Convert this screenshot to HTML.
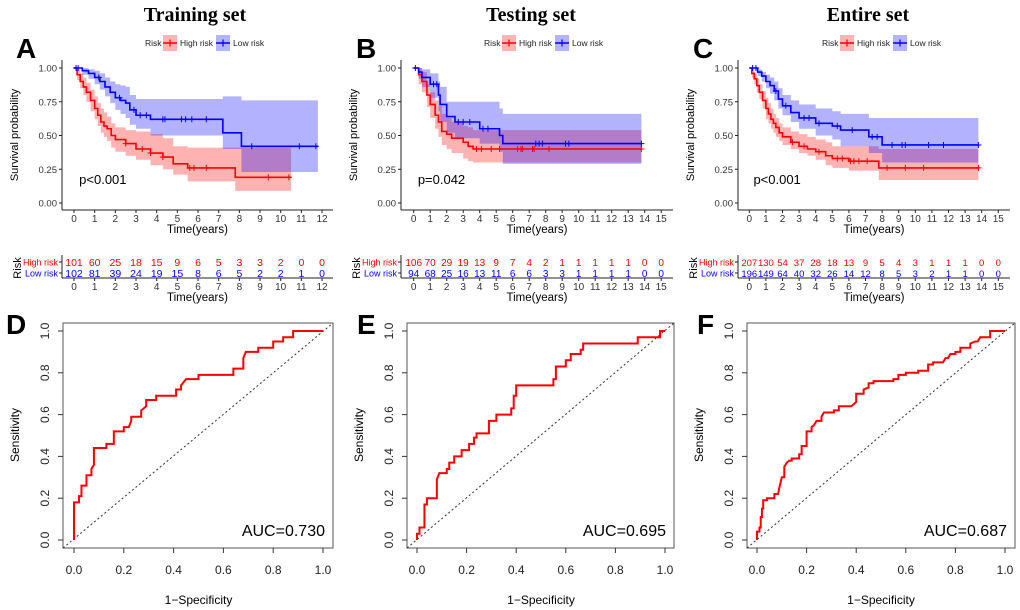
<!DOCTYPE html>
<html><head><meta charset="utf-8"><style>
html,body{margin:0;padding:0;background:#fff;}
svg{display:block;font-family:"Liberation Sans",Arial,sans-serif;}
</style></head><body>
<svg id="fig" width="1020" height="610" viewBox="0 0 1020 610" xmlns="http://www.w3.org/2000/svg">
<text x="195" y="21" text-anchor="middle" font-family="Liberation Serif, serif" font-weight="bold" font-size="20">Training set</text>
<text x="531" y="21" text-anchor="middle" font-family="Liberation Serif, serif" font-weight="bold" font-size="20">Testing set</text>
<text x="868" y="21" text-anchor="middle" font-family="Liberation Serif, serif" font-weight="bold" font-size="20">Entire set</text>
</svg>
<script>
// ---------------- KM data ----------------
const A_hiT=[0.15,0.3,0.45,0.6,0.8,1.0,1.15,1.3,1.45,1.6,1.8,2.0,2.5,3.0,3.7,4.3,4.8,5.5,7.8];
const A_hiS=[0.95,0.90,0.86,0.82,0.76,0.70,0.65,0.60,0.57,0.55,0.50,0.47,0.44,0.40,0.37,0.34,0.29,0.26,0.19];
const A_hiLo=[0.91,0.85,0.80,0.75,0.68,0.62,0.57,0.52,0.49,0.46,0.41,0.38,0.35,0.32,0.28,0.25,0.21,0.16,0.09];
const A_hiUp=[0.99,0.96,0.93,0.89,0.84,0.79,0.74,0.70,0.67,0.64,0.59,0.56,0.54,0.53,0.51,0.48,0.42,0.41,0.41];
const A_hiEnd=10.5;
const A_hiCens=[2.5,3.3,3.7,4.3,5.6,5.8,6.4,9.4,10.4];
const A_loT=[0.4,0.7,1.0,1.25,1.5,1.75,2.0,2.25,2.5,2.7,3.0,3.7,7.2,8.1];
const A_loS=[0.98,0.96,0.93,0.90,0.86,0.82,0.78,0.76,0.74,0.69,0.65,0.62,0.52,0.42];
const A_loLo=[0.95,0.92,0.88,0.84,0.79,0.74,0.69,0.66,0.63,0.58,0.55,0.50,0.40,0.23];
const A_loUp=[1.0,0.99,0.98,0.96,0.93,0.90,0.88,0.87,0.86,0.80,0.77,0.77,0.79,0.76];
const A_loEnd=11.8;
const A_loCens=[0.1,0.2,1.2,2.2,2.9,3.2,3.5,4.3,4.4,5.2,5.4,5.7,6.4,8.6,10.9,11.7];
const A_hiRisk=[101,60,25,18,15,9,6,5,3,3,2,0,0];
const A_loRisk=[102,81,39,24,19,15,8,6,5,2,2,1,0];

const B_hiT=[0.3,0.5,0.8,1.0,1.3,1.5,1.7,2.0,2.3,3.0,3.3,3.6];
const B_hiS=[0.95,0.90,0.80,0.73,0.65,0.60,0.53,0.51,0.48,0.45,0.42,0.40];
const B_hiLo=[0.88,0.82,0.71,0.63,0.55,0.49,0.43,0.40,0.37,0.33,0.31,0.30];
const B_hiUp=[1.0,0.97,0.88,0.82,0.76,0.72,0.66,0.63,0.60,0.57,0.56,0.54];
const B_hiEnd=13.8;
const B_hiCens=[3.8,4.1,4.7,5.2,6.3,6.5,6.6,7.2,7.3,8.2,13.8];
const B_loT=[0.3,0.5,1.0,1.5,1.6,2.0,2.5,4.0,5.2,5.4];
const B_loS=[0.97,0.93,0.88,0.80,0.73,0.64,0.60,0.55,0.50,0.44];
const B_loLo=[0.92,0.86,0.78,0.68,0.60,0.52,0.48,0.44,0.38,0.29];
const B_loUp=[1.0,0.99,0.96,0.90,0.86,0.75,0.75,0.75,0.70,0.66];
const B_loEnd=13.8;
const B_loCens=[0.1,1.2,1.4,2.7,3.0,3.4,4.2,4.5,7.4,7.6,7.8,9.2,9.4,13.8];
const B_hiRisk=[106,70,29,19,13,9,7,4,2,1,1,1,1,1,0,0];
const B_loRisk=[94,68,25,16,13,11,6,6,3,3,1,1,1,1,0,0];

const C_hiT=[0.15,0.3,0.45,0.6,0.8,1.0,1.15,1.3,1.45,1.6,1.8,2.0,2.5,3.0,3.5,4.0,4.6,5.0,6.0,7.8];
const C_hiS=[0.96,0.92,0.87,0.82,0.76,0.70,0.66,0.62,0.59,0.56,0.52,0.49,0.45,0.42,0.40,0.38,0.35,0.33,0.31,0.26];
const C_hiLo=[0.93,0.88,0.82,0.77,0.70,0.62,0.59,0.55,0.52,0.49,0.46,0.43,0.40,0.37,0.35,0.32,0.28,0.26,0.24,0.17];
const C_hiUp=[0.99,0.96,0.92,0.88,0.83,0.78,0.74,0.70,0.66,0.63,0.59,0.56,0.53,0.51,0.49,0.47,0.45,0.42,0.42,0.40];
const C_hiEnd=13.8;
const C_hiCens=[2.6,3.3,4.2,5.3,5.6,6.1,6.3,6.6,7.1,8.3,9.4,10.5,13.8];
const C_loT=[0.5,0.75,1.0,1.25,1.5,1.75,2.0,2.5,3.0,4.0,5.0,5.5,7.2,8.0];
const C_loS=[0.97,0.94,0.90,0.87,0.83,0.77,0.72,0.67,0.63,0.59,0.57,0.54,0.49,0.43];
const C_loLo=[0.94,0.90,0.85,0.81,0.76,0.70,0.65,0.60,0.55,0.50,0.47,0.42,0.37,0.30];
const C_loUp=[0.99,0.97,0.95,0.93,0.90,0.85,0.80,0.76,0.73,0.70,0.68,0.66,0.63,0.63];
const C_loEnd=13.8;
const C_loCens=[0.2,0.4,1.6,2.2,3.3,3.6,4.2,5.3,6.2,7.4,7.7,8.6,9.2,9.4,10.8,11.7,13.8];
const C_hiRisk=[207,130,54,37,28,18,13,9,5,4,3,1,1,1,0,0];
const C_loRisk=[196,149,64,40,32,26,14,12,8,5,3,2,1,1,0,0];

// ---------------- ROC data ----------------
const D_fpr=[0,0,0.02,0.02,0.03,0.03,0.05,0.05,0.07,0.07,0.08,0.08,0.13,0.13,0.16,0.16,0.2,0.2,0.22,0.23,0.23,0.27,0.27,0.29,0.29,0.33,0.33,0.41,0.41,0.43,0.43,0.45,0.5,0.5,0.64,0.64,0.68,0.68,0.69,0.74,0.74,0.8,0.8,0.84,0.84,0.88,0.88,1];
const D_tpr=[0,0.18,0.18,0.21,0.21,0.26,0.26,0.31,0.31,0.34,0.36,0.44,0.44,0.46,0.46,0.52,0.52,0.54,0.54,0.57,0.59,0.59,0.62,0.64,0.67,0.67,0.69,0.69,0.72,0.72,0.74,0.77,0.77,0.79,0.79,0.82,0.82,0.87,0.9,0.9,0.92,0.92,0.95,0.95,0.97,0.97,1,1];
const E_fpr=[0,0,0.01,0.01,0.03,0.03,0.03,0.04,0.04,0.08,0.08,0.09,0.12,0.12,0.13,0.13,0.15,0.15,0.18,0.18,0.21,0.21,0.23,0.23,0.24,0.24,0.29,0.29,0.32,0.32,0.38,0.38,0.39,0.39,0.4,0.4,0.55,0.55,0.56,0.56,0.6,0.6,0.62,0.62,0.66,0.66,0.67,0.67,0.89,0.89,0.98,0.98,1];
const E_tpr=[0,0.03,0.03,0.06,0.06,0.12,0.17,0.17,0.2,0.2,0.29,0.32,0.32,0.34,0.34,0.37,0.37,0.4,0.4,0.43,0.43,0.46,0.46,0.49,0.49,0.51,0.51,0.57,0.57,0.6,0.6,0.63,0.63,0.69,0.69,0.74,0.74,0.77,0.77,0.83,0.83,0.86,0.86,0.89,0.89,0.91,0.91,0.94,0.94,0.97,0.97,1,1];
const F_fpr=[0,0,0.01,0.01,0.015,0.015,0.02,0.02,0.025,0.025,0.04,0.04,0.07,0.07,0.085,0.09,0.1,0.11,0.11,0.12,0.13,0.14,0.14,0.17,0.17,0.18,0.18,0.2,0.2,0.2,0.22,0.22,0.23,0.24,0.26,0.26,0.27,0.31,0.31,0.33,0.33,0.38,0.39,0.4,0.4,0.43,0.43,0.45,0.45,0.47,0.47,0.55,0.55,0.57,0.57,0.6,0.6,0.65,0.65,0.69,0.69,0.71,0.71,0.75,0.76,0.77,0.78,0.8,0.8,0.82,0.82,0.86,0.86,0.88,0.89,0.9,0.94,0.94,1];
const F_tpr=[0,0.04,0.04,0.06,0.06,0.11,0.11,0.15,0.15,0.19,0.19,0.2,0.2,0.22,0.22,0.25,0.3,0.3,0.35,0.37,0.38,0.38,0.39,0.39,0.41,0.41,0.45,0.45,0.48,0.52,0.52,0.54,0.55,0.57,0.57,0.59,0.61,0.61,0.62,0.62,0.64,0.64,0.65,0.66,0.7,0.7,0.72,0.73,0.75,0.75,0.76,0.76,0.77,0.77,0.79,0.79,0.8,0.8,0.81,0.81,0.84,0.84,0.85,0.85,0.87,0.87,0.89,0.89,0.9,0.9,0.92,0.92,0.94,0.95,0.95,0.97,0.97,1,1];
const rocTicks=[0,0.2,0.4,0.6,0.8,1.0];
const kmYTicks=[0,0.25,0.5,0.75,1.0];

const NS="http://www.w3.org/2000/svg";
const svg=document.getElementById('fig');
function mk(tag,attrs,parent,txt){const e=document.createElementNS(NS,tag);for(const k in attrs)e.setAttribute(k,attrs[k]);if(txt!==undefined)e.textContent=txt;(parent||svg).appendChild(e);return e;}

function stepAt(T,S,t){let s=1;for(let i=0;i<T.length;i++){if(T[i]<=t)s=S[i];}return s;}

function drawKM(cfg){
  const g=mk('g',{});
  
  
  const xs=t=>cfg.x0+t*cfg.px, ys=s=>203-s*135;
  const L=mk('text',{x:cfg.letterX,y:58,'font-size':28,'font-weight':'bold'},g,cfg.letter);
  
  
  const lg=mk('g',{},g);
  
  
  const lx=cfg.legX;
  mk('text',{x:lx,y:46,'font-size':8.5,fill:'#222'},lg,'Risk');
  mk('rect',{x:lx+18,y:35,width:14,height:16,fill:'#ffb3b3'},lg);
  mk('line',{x1:lx+18,y1:43,x2:lx+32,y2:43,stroke:'#f00','stroke-width':1.5},lg);
  mk('line',{x1:lx+25,y1:39.5,x2:lx+25,y2:46.5,stroke:'#f00','stroke-width':1.2},lg);
  mk('text',{x:lx+35,y:46,'font-size':8.5,fill:'#222'},lg,'High risk');
  mk('rect',{x:lx+71,y:35,width:14,height:16,fill:'#b3b3ff'},lg);
  mk('line',{x1:lx+71,y1:43,x2:lx+85,y2:43,stroke:'#00f','stroke-width':1.5},lg);
  mk('line',{x1:lx+78,y1:39.5,x2:lx+78,y2:46.5,stroke:'#00f','stroke-width':1.2},lg);
  mk('text',{x:lx+88,y:46,'font-size':8.5,fill:'#222'},lg,'Low risk');
  function band(T,Lo,Up,end,fill,nm){
    let ptsU=[[0,1]],ptsL=[[0,1]];
    for(let i=0;i<T.length;i++){ptsU.push([T[i],ptsU[ptsU.length-1][1]]);ptsU.push([T[i],Up[i]]);ptsL.push([T[i],ptsL[ptsL.length-1][1]]);ptsL.push([T[i],Lo[i]]);}
    ptsU.push([end,Up[Up.length-1]]);ptsL.push([end,Lo[Lo.length-1]]);
    let d='M'+ptsU.map(p=>xs(p[0])+','+ys(p[1])).join('L');
    d+='L'+ptsL.reverse().map(p=>xs(p[0])+','+ys(p[1])).join('L')+'Z';
    const b=mk('path',{d:d,fill:fill,'fill-opacity':0.3},g);
    
    
  }
  band(cfg.hiT,cfg.hiLo,cfg.hiUp,cfg.hiEnd,'#ff0000','high-risk-ci-band');
  band(cfg.loT,cfg.loLo,cfg.loUp,cfg.loEnd,'#0000ff','low-risk-ci-band');
  function curve(T,S,end,col,cens,nm){
    let d='M'+xs(0)+','+ys(1);
    for(let i=0;i<T.length;i++){d+='H'+xs(T[i])+'V'+ys(S[i]);}
    d+='H'+xs(end);
    const c=mk('path',{d:d,fill:'none',stroke:col,'stroke-width':1.6},g);
    
    
    cens.forEach(t=>{const x=xs(t),y=ys(stepAt(T,S,t));
      const m=mk('path',{d:`M${x-3},${y}H${x+3}M${x},${y-3}V${y+3}`,stroke:col,'stroke-width':1},g);
      
      });
  }
  curve(cfg.hiT,cfg.hiS,cfg.hiEnd,'#ff0000',cfg.hiCens,'high-risk-curve');
  curve(cfg.loT,cfg.loS,cfg.loEnd,'#0000ff',cfg.loCens,'low-risk-curve');
  const ax=cfg.axisX;
  mk('line',{x1:ax,y1:60,x2:ax,y2:210,stroke:'#222','stroke-width':1},g);
  mk('line',{x1:ax,y1:210,x2:cfg.right,y2:210,stroke:'#222','stroke-width':1},g);
  kmYTicks.forEach(v=>{mk('line',{x1:ax-3,y1:ys(v),x2:ax,y2:ys(v),stroke:'#222'},g);
    mk('text',{x:ax-5,y:ys(v)+3.5,'font-size':9.5,'text-anchor':'end',fill:'#333'},g,v.toFixed(2));});
  const yl=mk('text',{x:0,y:0,'font-size':11,'text-anchor':'middle',transform:`translate(${cfg.axisX-44},135) rotate(-90)`},g,'Survival probability');
  
  
  for(let t=0;t<=cfg.maxT;t++){
    mk('line',{x1:xs(t),y1:210,x2:xs(t),y2:213,stroke:'#222'},g);
    mk('text',{x:xs(t),y:222,'font-size':10,'text-anchor':'middle',fill:'#333'},g,String(t));
  }
  const xt=mk('text',{x:(ax+cfg.right)/2,y:233,'font-size':11.5,'text-anchor':'middle'},g,'Time(years)');
  
  
  const pv=mk('text',{x:xs(0.25),y:184,'font-size':13},g,cfg.p);
  
  
  const rt=mk('g',{},g);
  
  
  mk('line',{x1:ax,y1:255,x2:ax,y2:278,stroke:'#222'},rt);
  mk('line',{x1:ax,y1:278,x2:cfg.right,y2:278,stroke:'#222'},rt);
  mk('line',{x1:ax-3,y1:262,x2:ax,y2:262,stroke:'#222'},rt);
  mk('line',{x1:ax-3,y1:273,x2:ax,y2:273,stroke:'#222'},rt);
  mk('text',{x:ax-4,y:265.5,'font-size':9,'text-anchor':'end',fill:'#ff0000'},rt,'High risk');
  mk('text',{x:ax-4,y:276.5,'font-size':9,'text-anchor':'end',fill:'#0000ff'},rt,'Low risk');
  mk('text',{x:0,y:0,'font-size':11,'text-anchor':'middle',transform:`translate(${ax-45+4},268) rotate(-90)`},rt,'Risk');
  cfg.hiRisk.forEach((v,i)=>mk('text',{x:xs(i),y:266,'font-size':cfg.rfs,'text-anchor':'middle',fill:'#ff0000'},rt,String(v)));
  cfg.loRisk.forEach((v,i)=>mk('text',{x:xs(i),y:277,'font-size':cfg.rfs,'text-anchor':'middle',fill:'#0000ff'},rt,String(v)));
  for(let t=0;t<=cfg.maxT;t++){
    mk('line',{x1:xs(t),y1:278,x2:xs(t),y2:281,stroke:'#222'},rt);
    mk('text',{x:xs(t),y:290,'font-size':10,'text-anchor':'middle',fill:'#333'},rt,String(t));
  }
  mk('text',{x:(ax+cfg.right)/2,y:301,'font-size':11.5,'text-anchor':'middle'},rt,'Time(years)');
}

function drawROC(cfg){
  const g=mk('g',{});
  
  
  const xs=v=>cfg.x0+v*(cfg.x1-cfg.x0), ys=v=>540-v*209;
  const L=mk('text',{x:cfg.letterX,y:334,'font-size':28,'font-weight':'bold'},g,cfg.letter);
  
  
  mk('rect',{x:cfg.bl,y:323,width:cfg.br-cfg.bl,height:225,fill:'none',stroke:'#555','stroke-width':1},g);
  const dg=mk('line',{x1:cfg.bl,y1:548,x2:cfg.br,y2:323,stroke:'#333','stroke-width':1,'stroke-dasharray':'2,2.5'},g);
  
  
  rocTicks.forEach(v=>{
    mk('line',{x1:xs(v),y1:548,x2:xs(v),y2:553,stroke:'#333'},g);
    mk('text',{x:xs(v),y:574,'font-size':12,'text-anchor':'middle',fill:'#222'},g,v.toFixed(1));
    mk('line',{x1:cfg.bl-5,y1:ys(v),x2:cfg.bl,y2:ys(v),stroke:'#333'},g);
    mk('text',{x:0,y:0,'font-size':12,'text-anchor':'middle',fill:'#222',transform:`translate(${cfg.bl-14},${ys(v)}) rotate(-90)`},g,v.toFixed(1));
  });
  const yl=mk('text',{x:0,y:0,'font-size':12,'text-anchor':'middle',transform:`translate(${cfg.bl-44},435) rotate(-90)`},g,'Sensitivity');
  
  
  const xl=mk('text',{x:xs(0.5),y:604,'font-size':12,'text-anchor':'middle'},g,'1\u2212Specificity');
  
  
  let d='M'+cfg.fpr.map((f,i)=>xs(f)+','+ys(cfg.tpr[i])).join('L');
  const c=mk('path',{d:d,fill:'none',stroke:'#ff0000','stroke-width':2},g);
  
  
  const au=mk('text',{x:cfg.br-8,y:536,'font-size':16,'text-anchor':'end'},g,cfg.auc);
  
  
}

drawKM({name:'km-training',letter:'A',letterX:16,legX:145,x0:74,px:20.67,axisX:62,right:333,maxT:12,p:'p<0.001',rfs:10.5,
  hiT:A_hiT,hiS:A_hiS,hiLo:A_hiLo,hiUp:A_hiUp,hiEnd:A_hiEnd,hiCens:A_hiCens,loT:A_loT,loS:A_loS,loLo:A_loLo,loUp:A_loUp,loEnd:A_loEnd,loCens:A_loCens,hiRisk:A_hiRisk,loRisk:A_loRisk});
drawKM({name:'km-testing',letter:'B',letterX:356,legX:484,x0:413.7,px:16.5,axisX:401,right:673,maxT:15,p:'p=0.042',rfs:10,
  hiT:B_hiT,hiS:B_hiS,hiLo:B_hiLo,hiUp:B_hiUp,hiEnd:B_hiEnd,hiCens:B_hiCens,loT:B_loT,loS:B_loS,loLo:B_loLo,loUp:B_loUp,loEnd:B_loEnd,loCens:B_loCens,hiRisk:B_hiRisk,loRisk:B_loRisk});
drawKM({name:'km-entire',letter:'C',letterX:693,legX:822,x0:749.3,px:16.6,axisX:738,right:1010,maxT:15,p:'p<0.001',rfs:9.5,
  hiT:C_hiT,hiS:C_hiS,hiLo:C_hiLo,hiUp:C_hiUp,hiEnd:C_hiEnd,hiCens:C_hiCens,loT:C_loT,loS:C_loS,loLo:C_loLo,loUp:C_loUp,loEnd:C_loEnd,loCens:C_loCens,hiRisk:C_hiRisk,loRisk:C_loRisk});
drawROC({name:'roc-training',letter:'D',letterX:6,x0:74,x1:323,bl:63,br:333,fpr:D_fpr,tpr:D_tpr,auc:'AUC=0.730'});
drawROC({name:'roc-testing',letter:'E',letterX:357,x0:417,x1:665,bl:407,br:674,fpr:E_fpr,tpr:E_tpr,auc:'AUC=0.695'});
drawROC({name:'roc-entire',letter:'F',letterX:697,x0:757,x1:1005,bl:747,br:1015,fpr:F_fpr,tpr:F_tpr,auc:'AUC=0.687'});
</script>
</body></html>
